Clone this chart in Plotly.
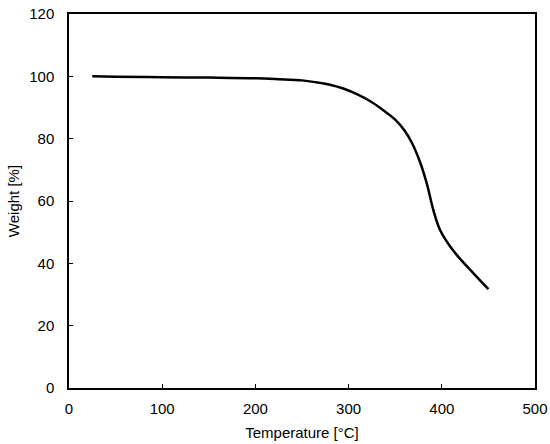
import plotly.graph_objects as go

temperature = [25, 50, 100, 150, 200, 225, 250, 265, 280, 295, 310, 325, 340, 350,
               360, 368, 377, 384, 391, 398, 409, 418, 434, 450]
weight = [100, 99.9, 99.7, 99.6, 99.4, 99.1, 98.7, 98.1, 97.3, 96.0, 94.1, 91.7, 88.5, 86.1,
          82.6, 78.6, 72.2, 65.5, 57.0, 50.8, 45.4, 42.0, 36.8, 31.7]

x_ticks = [0, 100, 200, 300, 400, 500]
y_ticks = [0, 20, 40, 60, 80, 100, 120]

fig = go.Figure()
fig.add_trace(go.Scatter(
    x=temperature, y=weight, mode="lines",
    line=dict(color="black", width=2.5, shape="spline", smoothing=1),
    showlegend=False,
))

axis_style = dict(
    showgrid=False, zeroline=False, automargin=False,
    showline=True, linecolor="black", linewidth=1.5, mirror=True,
    ticks="inside", ticklen=4, tickwidth=1, tickcolor="black",
    tickfont=dict(size=15, color="black"),
)

fig.update_xaxes(
    range=[0, 500], tickvals=x_ticks, ticklabelstandoff=6,
    title=dict(text="Temperature [°C]", font=dict(size=15, color="black"), standoff=12),
    **axis_style,
)
fig.update_yaxes(
    range=[0, 120], tickvals=y_ticks, ticklabelstandoff=10,
    title=dict(text="Weight [%]", font=dict(size=15, color="black"), standoff=6),
    **axis_style,
)

fig.update_layout(
    width=550, height=444,
    margin=dict(l=69, r=15, t=14, b=56),
    plot_bgcolor="white", paper_bgcolor="white",
    font=dict(family="Liberation Sans, Arial, sans-serif", color="black"),
)

# the page body has an 8px margin by default; drop it so the figure sits at 0,0
fig.write_html("out.html", config={"displayModeBar": False},
               post_script="document.body.style.margin='0';")
